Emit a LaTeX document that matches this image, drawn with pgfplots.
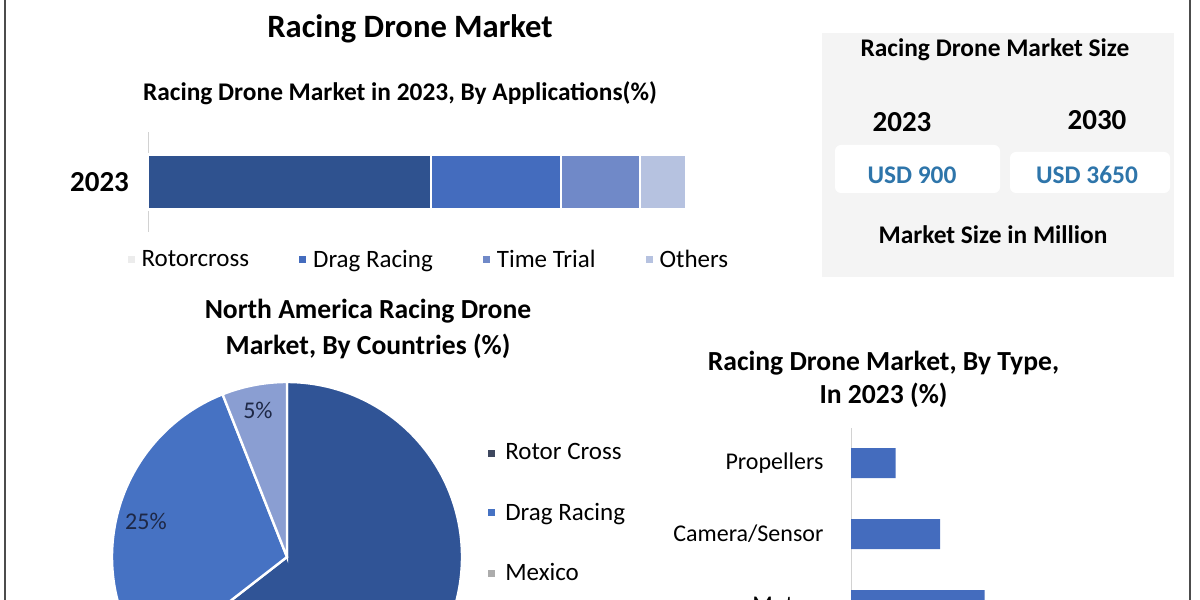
\documentclass[border=0pt]{standalone}
\usepackage{fontspec}
\setmainfont{Carlito}
\usepackage{pgfplots}
\pgfplotsset{compat=1.18}
\definecolor{c1}{RGB}{47,82,143}
\definecolor{c2}{RGB}{68,108,190}
\definecolor{c3}{RGB}{112,137,200}
\definecolor{c4}{RGB}{182,194,224}
\definecolor{usd}{RGB}{46,117,170}
\definecolor{boxbg}{RGB}{244,244,244}
\definecolor{pie1}{RGB}{48,84,150}
\definecolor{pie2}{RGB}{70,114,195}
\definecolor{pie3}{RGB}{138,158,210}
\definecolor{lab}{RGB}{30,40,70}
\newcommand{\fs}[1]{\fontsize{#1}{#1}\selectfont}
% pie values (%): Rotor Cross, Drag Racing, Mexico (as drawn)
\def\pieRotor{64.5}
\def\pieDrag{29.5}
\def\pieMexico{6}
\begin{document}
\begin{tikzpicture}[x=1pt,y=1pt]
\useasboundingbox (0,0) rectangle (600,300);
\clip (0,0) rectangle (600,300);
\draw[gray!60!black, line width=0.8pt] (2.5,0) -- (2.5,300);
\draw[gray!60!black, line width=0.8pt] (595,0) -- (595,300);

% ---------- titles ----------
\node[font=\bfseries\fs{16.3}] at (205,285.5) {Racing Drone Market};
\node[font=\bfseries\fs{12.7}] at (200,253.5) {Racing Drone Market in 2023, By Applications(\%)};

% ---------- stacked bar ----------
\begin{axis}[at={(74pt,184pt)}, anchor=south west, scale only axis,
  width=269pt, height=50pt, xbar stacked, bar width=27.5pt,
  xmin=0, xmax=100, ymin=-1, ymax=1, ytick={0}, yticklabels={2023},
  hide x axis, axis y line*=left, y axis line style={draw=gray!35},
  ytick style={draw=none},
  yticklabel style={font=\bfseries\fs{14.5}, xshift=-6pt},
  legend columns=4,
  legend style={at={(0.524,-0.28)}, anchor=center, draw=none, fill=none,
    font=\fs{12.5}, /tikz/every even column/.append style={column sep=23pt}},
  legend image code/.code={\fill[#1,draw=none] (0pt,-1.75pt) rectangle (3.5pt,1.75pt);\path[draw=none,fill=none] (0pt,0pt) -- (5pt,0pt);}]
\addplot[fill=c1, draw=white, line width=1.2pt,
  legend image code/.code={\fill[gray!15,draw=none] (0pt,-1.75pt) rectangle (3.5pt,1.75pt);\path[draw=none,fill=none] (0pt,0pt) -- (5pt,0pt);}] coordinates {(52.6,0)};
\addplot[fill=c2, draw=white, line width=1.2pt] coordinates {(24.2,0)};
\addplot[fill=c3, draw=white, line width=1.2pt] coordinates {(14.7,0)};
\addplot[fill=c4, draw=white, line width=1.2pt] coordinates {(8.5,0)};
\legend{Rotorcross, Drag Racing, Time Trial, Others}
\end{axis}

% ---------- market size box ----------
\fill[boxbg] (411,161.5) rectangle (587,283.5);
\fill[white, rounded corners=3pt] (417.5,203.5) rectangle (500,227.5);
\fill[white, rounded corners=3pt] (505,203.5) rectangle (585,224);
\node[font=\bfseries\fs{12.7}] at (497.5,275) {Racing Drone Market Size};
\node[font=\bfseries\fs{14.5}] at (451,239) {2023};
\node[font=\bfseries\fs{14.5}] at (548.5,240) {2030};
\node[font=\bfseries\fs{12.7}, text=usd] at (456,212.5) {USD 900};
\node[font=\bfseries\fs{12.7}, text=usd] at (543.5,212.5) {USD 3650};
\node[font=\bfseries\fs{12.7}] at (496.5,182.5) {Market Size in Million};

% ---------- pie ----------
\node[font=\bfseries\fs{13.8}] at (184,144.5) {North America Racing Drone};
\node[font=\bfseries\fs{13.8}] at (184,127) {Market, By Countries (\%)};
\begin{axis}[at={(143.5pt,21.5pt)}, anchor=center, scale only axis,
  width=175pt, height=175pt, xmin=-1, xmax=1, ymin=-1, ymax=1,
  hide axis, clip=false,
  legend style={at={(1.057,0.848)}, anchor=north west, draw=none, fill=none,
    font=\fs{12.5}, row sep=16pt, cells={anchor=west}},
  legend image code/.code={\fill[#1,draw=none] (0pt,-1.75pt) rectangle (3.5pt,1.75pt);\path[draw=none,fill=none] (0pt,0pt) -- (6.5pt,0pt);}]
\pgfmathsetmacro{\aA}{90}
\pgfmathsetmacro{\aB}{90+3.6*\pieMexico}
\pgfmathsetmacro{\aC}{\aB+3.6*\pieDrag}
\pgfmathsetmacro{\aD}{\aC+3.6*\pieRotor}
\fill[pie1, draw=white, line width=1.2pt] (axis cs:0,0) -- ++(\aC:87.5pt) arc[start angle=\aC, end angle=\aD, radius=87.5pt] -- cycle;
\fill[pie2, draw=white, line width=1.2pt] (axis cs:0,0) -- ++(\aB:87.5pt) arc[start angle=\aB, end angle=\aC, radius=87.5pt] -- cycle;
\fill[pie3, draw=white, line width=1.2pt] (axis cs:0,0) -- ++(\aA:87.5pt) arc[start angle=\aA, end angle=\aB, radius=87.5pt] -- cycle;
\node[font=\fs{12}, text=lab] at (axis cs:-0.166,0.84) {5\%};
\node[font=\fs{12}, text=lab] at (axis cs:-0.806,0.206) {25\%};
\addlegendimage{fill={rgb,255:red,62;green,72;blue,95}}
\addlegendentry{Rotor Cross}
\addlegendimage{fill=pie2}
\addlegendentry{Drag Racing}
\addlegendimage{fill=gray!65}
\addlegendentry{Mexico}
\end{axis}

% ---------- by type ----------
\node[font=\bfseries\fs{13.8}] at (441.75,118.5) {Racing Drone Market, By Type,};
\node[font=\bfseries\fs{13.8}] at (441.75,102.5) {In 2023 (\%)};
\begin{axis}[at={(425.5pt,-20.25pt)}, anchor=south west, scale only axis,
  width=133.5pt, height=106.5pt, xbar, bar width=15pt,
  xmin=0, xmax=60, ymin=-0.5, ymax=2.5, ytick={0,1,2},
  yticklabels={Motors, Camera/Sensor, Propellers},
  hide x axis, axis y line*=left, y axis line style={draw=gray!35},
  ytick style={draw=none},
  yticklabel style={font=\fs{12}, xshift=-6pt}]
\addplot[fill=c2, draw=none] coordinates {(30,0) (20,1) (10,2)};
\end{axis}
\end{tikzpicture}
\end{document}
